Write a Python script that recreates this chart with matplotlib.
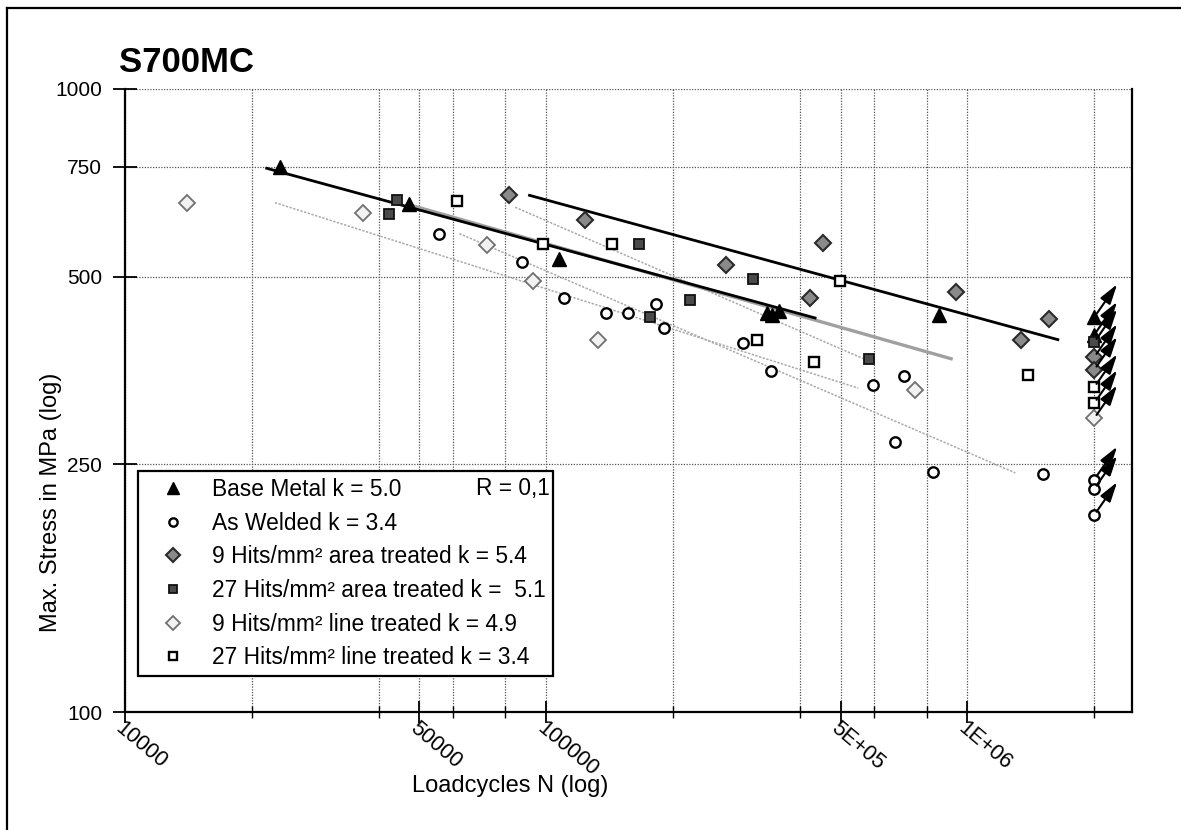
import matplotlib

matplotlib.use("Agg")
import matplotlib.pyplot as plt
from matplotlib.lines import Line2D
from matplotlib.ticker import FixedLocator, FixedFormatter, NullFormatter
from matplotlib.transforms import ScaledTranslation

plt.rcParams["font.family"] = ["Liberation Sans", "DejaVu Sans"]

# load cycles N and max. stress S in MPa
BASE_N = [23300, 47300, 107000, 334000, 344000, 358000, 858000]
BASE_S = [750, 654, 533, 437, 434, 440, 434]

WELD_N = [55800, 87600, 110000, 139000, 156000, 182000, 190000, 293000,
          342000, 596000, 709000, 672000, 829000, 1510000]
WELD_S = [585, 528, 462, 437, 437, 452, 414, 391, 353, 335, 346, 271, 243, 241]

AREA9_N = [81400, 123800, 267000, 454000, 424000, 942000, 1560000, 1340000]
AREA9_S = [675, 617, 522, 566, 462, 472, 427, 396]

AREA27_N = [44200, 42300, 166000, 309000, 219000, 176000, 583000]
AREA27_S = [664, 631, 564, 496, 458, 431, 369]

LINE9_N = [14000, 36800, 72500, 93300, 133000, 752000]
LINE9_S = [657, 632, 562, 491, 395, 329]

LINE27_N = [61500, 98500, 143000, 499000, 317000, 433000, 1390000]
LINE27_S = [660, 564, 564, 492, 395, 364, 347]

# run-outs (no failure) at 2E+06 cycles
RUNOUT_N = 2.0e6
BASE_RUN = [430, 403]
WELD_RUN = [236, 228, 207]
AREA9_RUN = [371, 354]
AREA27_RUN = [392]
LINE9_RUN = [296]
LINE27_RUN = [332, 313]

# fitted S-N lines: end points (N) and (S)
BASE_FIT_N, BASE_FIT_S = [21700, 435000], [746, 429]
AREA9_FIT_N, AREA9_FIT_S = [91300, 1640000], [675, 396]
AREA27_FIT_N, AREA27_FIT_S = [48400, 915000], [649, 369]
LINE9_FIT_N, LINE9_FIT_S = [22700, 551000], [657, 331]
WELD_FIT_N, WELD_FIT_S = [62200, 1300000], [586, 242]
LINE27_FIT_N, LINE27_FIT_S = [84400, 572000], [646, 368]

LABELS = [
    "Base Metal k = 5.0",
    "As Welded k = 3.4",
    "9 Hits/mm\u00b2 area treated k = 5.4",
    "27 Hits/mm\u00b2 area treated k =  5.1",
    "9 Hits/mm\u00b2 line treated k = 4.9",
    "27 Hits/mm\u00b2 line treated k = 3.4",
]

W, H = 1181, 830


def fx(px):
    return px / W


def fy(py):
    return 1 - py / H


fig = plt.figure(figsize=(W / 100, H / 100), dpi=100)
ax = fig.add_axes([fx(125), fy(712), fx(1132) - fx(125), fy(89) - fy(712)])
ax.set_xscale("log")
ax.set_yscale("log")
ax.set_xlim(1e4, 2.46e6)
ax.set_ylim(100, 1000)

styles = [
    dict(marker="^", ms=10.5, mfc="black", mec="black", mew=1.0),
    dict(marker="o", ms=7.5, mfc="white", mec="black", mew=1.7),
    dict(marker="D", ms=8.5, mfc="#8a8a8a", mec="#2a2a2a", mew=1.5),
    dict(marker="s", ms=7.5, mfc="#4a4a4a", mec="#111111", mew=1.3),
    dict(marker="D", ms=8.5, mfc="#f2f2f2", mec="#707070", mew=1.3),
    dict(marker="s", ms=7.5, mfc="white", mec="black", mew=1.7),
]
legend_ms = [8.5, 6, 7, 6, 7, 6]
series = [
    (BASE_N, BASE_S, BASE_RUN),
    (WELD_N, WELD_S, WELD_RUN),
    (AREA9_N, AREA9_S, AREA9_RUN),
    (AREA27_N, AREA27_S, AREA27_RUN),
    (LINE9_N, LINE9_S, LINE9_RUN),
    (LINE27_N, LINE27_S, LINE27_RUN),
]

# fit lines
dot_kw = dict(color="#a9a9a9", lw=1.1, ls=(0, (1.5, 1)), zorder=2)
ax.plot(LINE9_FIT_N, LINE9_FIT_S, **dot_kw)
ax.plot(WELD_FIT_N, WELD_FIT_S, **dot_kw)
ax.plot(LINE27_FIT_N, LINE27_FIT_S, **dot_kw)
ax.plot(AREA27_FIT_N, AREA27_FIT_S, color="#a0a0a0", lw=2.4, zorder=2)
ax.plot(BASE_FIT_N, BASE_FIT_S, color="black", lw=2.0, zorder=3)
ax.plot(AREA9_FIT_N, AREA9_FIT_S, color="black", lw=2.0, zorder=3)

handles = []
for (n, s, run), st, lab, lms in zip(series, styles, LABELS, legend_ms):
    ax.plot(n, s, ls="none", zorder=4, **st)
    ax.plot([RUNOUT_N] * len(run), run, ls="none", zorder=4, **st)
    handles.append(Line2D([], [], ls="none", label=lab, **{**st, "ms": lms}))

# run-out arrows, pointing up and to the right from each marker
arrow_off = ScaledTranslation(0.23, 0.33, fig.dpi_scale_trans)
for _, _, run in series:
    for s in run:
        ax.annotate("", xy=(RUNOUT_N, s), xycoords=ax.transData + arrow_off,
                    xytext=(RUNOUT_N, s), textcoords="data",
                    arrowprops=dict(arrowstyle="-|>,head_length=1.0,head_width=0.3",
                                    color="black", lw=1.5,
                                    mutation_scale=12, shrinkA=3, shrinkB=0),
                    zorder=5)

# axes, ticks and grid
major_x = [1e4, 5e4, 1e5, 5e5, 1e6]
minor_x = [2e4, 4e4, 6e4, 8e4, 2e5, 4e5, 6e5, 8e5, 2e6]
ax.xaxis.set_major_locator(FixedLocator(major_x))
ax.xaxis.set_major_formatter(FixedFormatter(["10000", "50000", "100000", "5E+05", "1E+06"]))
ax.xaxis.set_minor_locator(FixedLocator(minor_x))
ax.xaxis.set_minor_formatter(NullFormatter())
ax.yaxis.set_major_locator(FixedLocator([100, 250, 500, 750, 1000]))
ax.yaxis.set_major_formatter(FixedFormatter(["100", "250", "500", "750", "1000"]))
ax.yaxis.set_minor_locator(FixedLocator([]))

ax.tick_params(axis="x", which="major", direction="inout", length=16, width=1.3,
               pad=-4, labelsize=15.5)
ax.tick_params(axis="x", which="minor", direction="inout", length=9, width=1.0)
ax.tick_params(axis="y", which="major", direction="inout", length=17, width=1.3,
               pad=8, labelsize=15)
for lab in ax.get_xticklabels():
    lab.set_rotation(-40)
    lab.set_rotation_mode("anchor")
    lab.set_ha("left")
    lab.set_va("top")

grid_kw = dict(color="#555555", lw=0.9, ls=(0, (1, 1.2)))
ax.grid(True, which="both", axis="x", **grid_kw)
ax.grid(True, which="major", axis="y", **grid_kw)
ax.set_axisbelow(True)
for side in ("left", "bottom", "right"):
    ax.spines[side].set_linewidth(1.6)
ax.spines["top"].set_visible(False)

# legend and notes
leg = ax.legend(handles=handles, loc="upper left",
                bbox_to_anchor=(13 / 1007, (712 - 471) / 623), borderaxespad=0,
                fontsize=16.4, frameon=True, fancybox=False, framealpha=1,
                edgecolor="black", handlelength=2.5, handletextpad=0.45,
                borderpad=0.3, labelspacing=0.47)
leg.get_frame().set_linewidth(1.6)
leg.set_zorder(6)
ax.text((550 - 125) / 1007, (712 - 488) / 623, "R = 0,1", transform=ax.transAxes,
        ha="right", va="center", fontsize=16.4, zorder=7)

fig.text(fx(119), fy(72), "S700MC", fontsize=25, fontweight="bold",
         ha="left", va="baseline")
fig.text(fx(51), fy(632), "Max. Stress in MPa (log)", rotation=90,
         ha="center", va="bottom", fontsize=17)
fig.text(fx(510), fy(786), "Loadcycles N (log)", ha="center", va="center",
         fontsize=17)

# outer frame (left and top edges of the original figure box)
fig.add_artist(Line2D([fx(7), fx(7)], [0, fy(8)], transform=fig.transFigure,
                      color="black", lw=1.6))
fig.add_artist(Line2D([fx(7), 1], [fy(8), fy(8)], transform=fig.transFigure,
                      color="black", lw=1.6))

fig.savefig("out.png", dpi=100)
